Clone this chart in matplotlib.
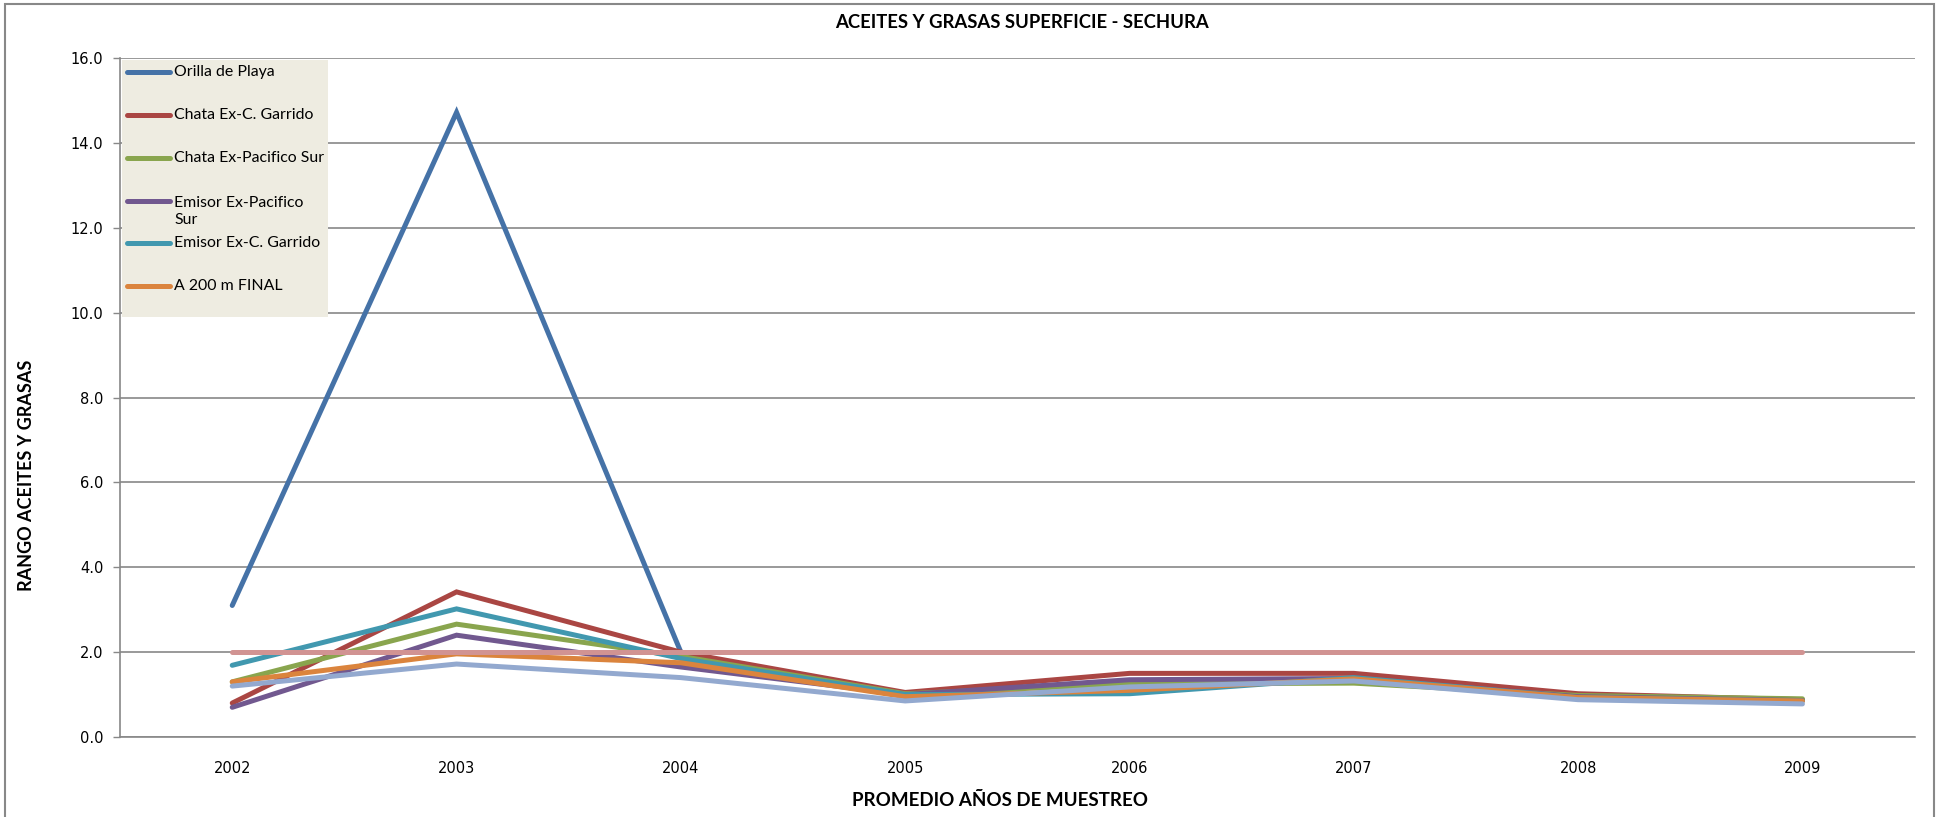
import numpy as np
import matplotlib
matplotlib.use("Agg")
import matplotlib.pyplot as plt
from matplotlib.patches import Rectangle

# values
years = ["2002", "2003", "2004", "2005", "2006", "2007", "2008", "2009"]
orilla_playa = [3.1, 14.72, 2.0, np.nan, np.nan, np.nan, np.nan, np.nan]
chata_garrido = [0.8, 3.42, 2.0, 1.05, 1.5, 1.5, 1.02, 0.88]
chata_pacifico = [1.3, 2.66, 1.9, 1.02, 1.25, 1.27, 0.98, 0.9]
emisor_pacifico = [0.7, 2.4, 1.65, 1.0, 1.35, 1.38, 0.95, 0.86]
emisor_garrido = [1.69, 3.02, 1.85, 1.0, 1.02, 1.4, 0.93, 0.85]
a200_final = [1.3, 1.96, 1.75, 0.95, 1.1, 1.37, 0.93, 0.85]
serie_7 = [1.2, 1.72, 1.4, 0.85, 1.18, 1.32, 0.88, 0.78]
limite = [2.0, 2.0, 2.0, 2.0, 2.0, 2.0, 2.0, 2.0]

labels = ["Orilla de Playa", "Chata Ex-C. Garrido", "Chata Ex-Pacifico Sur",
          "Emisor Ex-Pacifico\nSur", "Emisor Ex-C. Garrido", "A 200 m FINAL"]
colors = ["#4572A7", "#AA4643", "#89A54E", "#71588F", "#4198AF", "#DB843D",
          "#93A9CF", "#D19392"]
series = [orilla_playa, chata_garrido, chata_pacifico, emisor_pacifico,
          emisor_garrido, a200_final, serie_7, limite]

LABEL_FONT = ["Lato", "DejaVu Sans"]
GRID = "#888888"
W, H = 1940.0, 817.0

fig = plt.figure(figsize=(19.4, 8.17), dpi=100)
ax = fig.add_axes([0.0619, 0.0979, 0.925, 0.831])

x = np.arange(len(years))
for i, (vals, c) in enumerate(zip(series, colors)):
    ax.plot(x, vals, color=c, lw=3.6, solid_capstyle="round",
            solid_joinstyle="miter", zorder=3 + i * 0.1)

ax.set_xlim(-0.5, len(years) - 0.5)
ax.set_ylim(0, 16)
yt = np.arange(0, 16.1, 2)
ax.set_yticks(yt)
ax.set_yticklabels([f"{v:.1f}" for v in yt])
ax.set_xticks(x)
ax.set_xticklabels(years)
ax.tick_params(axis="y", length=5, width=1, color=GRID, pad=7, labelsize=10.5)
ax.tick_params(axis="x", length=0, pad=17, labelsize=10.5)
ax.grid(axis="y", color=GRID, lw=1.2, zorder=1)
ax.set_axisbelow(True)
for s in ["top", "right"]:
    ax.spines[s].set_visible(False)
for s in ["left", "bottom"]:
    ax.spines[s].set_color(GRID)
    ax.spines[s].set_linewidth(1.2)

# legend drawn by hand (clipped Excel legend, only first six entries show)
ax.add_patch(Rectangle((0.0011, 0.6186), 0.1148, 0.3784, transform=ax.transAxes,
                       facecolor="#EEECE1", edgecolor="none", zorder=5))
legend_y = [72, 115, 158, 211.5, 243, 286]
for lab, c, ypx in zip(labels, colors, legend_y):
    yf = 1 - ypx / H
    if "\n" in lab:
        yh = 1 - 201 / H
    else:
        yh = yf
    fig.add_artist(plt.Line2D([127 / W, 170 / W], [yh, yh], color=c,
                              lw=3.6, solid_capstyle="round", zorder=6))
    fig.text(174 / W, yf, lab, ha="left", va="center", fontsize=11.4,
             family=LABEL_FONT, zorder=7, linespacing=1.3)

fig.text(1022 / W, 1 - 22 / H, "ACEITES Y GRASAS SUPERFICIE - SECHURA",
         ha="center", va="center", fontsize=13.3, fontweight="bold", family=LABEL_FONT)
fig.text(27 / W, 1 - 475 / H, "RANGO ACEITES Y GRASAS", rotation=90,
         ha="center", va="center", fontsize=13, fontweight="bold", family=LABEL_FONT)
fig.text(1000 / W, 1 - 800 / H, "PROMEDIO AÑOS DE MUESTREO",
         ha="center", va="center", fontsize=13.5, fontweight="bold", family=LABEL_FONT)

# chart area border
fig.add_artist(Rectangle((5 / W, -0.05), 1929 / W, 1.05 - 4 / H,
                         transform=fig.transFigure, fill=False,
                         edgecolor=GRID, lw=1.5))

fig.savefig("out.png", dpi=100)
